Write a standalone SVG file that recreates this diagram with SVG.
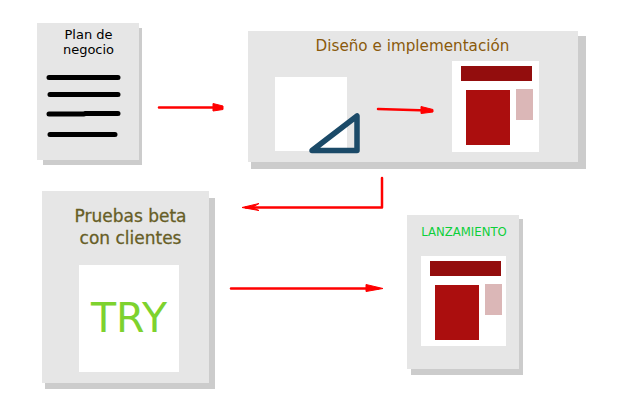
<svg xmlns="http://www.w3.org/2000/svg" width="640" height="400" viewBox="0 0 640 400">
<style>
.card{fill:#e6e6e6}.shadow{fill:#cccccc}.white{fill:#ffffff}
.t{font-family:"DejaVu Sans",sans-serif;text-anchor:middle}
.l{stroke:#000;stroke-width:5;stroke-linecap:round;fill:none}
.c{stroke:#ff0000;fill:none;stroke-width:2.500;stroke-linecap:round;stroke-linejoin:round}
.h{fill:#ff0000;stroke:#ff0000;stroke-width:1;stroke-linejoin:round}
.d{fill:#930d0d}.r{fill:#ab0e0e}.p{fill:#dbb7b7}
</style>
<rect width="640" height="400" fill="#fff"/>
<g id="plan">
<rect class="shadow" x="43" y="28" width="99" height="137"/>
<rect class="card" x="37" y="23" width="102" height="137"/>
<text class="t" x="88.500" y="39" font-size="13" fill="#000">Plan de</text>
<text class="t" x="88.500" y="54" font-size="13" fill="#000">negocio</text>
<path class="l" d="M49 77.500H118M50 94.500H118M49 114H84M85 113.500H118M50 134.500H115"/>
</g>
<g id="diseno">
<rect class="shadow" x="251" y="36" width="335" height="133"/>
<rect class="card" x="248" y="31" width="330" height="131"/>
<text class="t" x="412.500" y="51" font-size="15.200" fill="#8a5a0b">Diseño e implementación</text>
<rect class="white" x="275" y="77" width="72" height="74"/>
<path d="M312 150.500L357 116V150.500Z" fill="none" stroke="#1b4a68" stroke-width="5.500" stroke-linejoin="round"/>
<rect class="white" x="452" y="61" width="87" height="91"/>
<rect class="d" x="461" y="66" width="71" height="15"/>
<rect class="r" x="466" y="90" width="44" height="55"/>
<rect class="p" x="516" y="89" width="17" height="31"/>
</g>
<g id="pruebas">
<rect class="shadow" x="45" y="198" width="170" height="191"/>
<rect class="card" x="42" y="191" width="167" height="192"/>
<text class="t" x="130.500" y="222" font-size="17" fill="#665e26" stroke="#665e26" stroke-width="0.300">Pruebas beta</text>
<text class="t" x="130.500" y="244" font-size="17" fill="#665e26" stroke="#665e26" stroke-width="0.300">con clientes</text>
<rect class="white" x="79" y="265" width="100" height="107"/>
<text class="t" x="129" y="332" font-size="41" fill="#7dd22e">TRY</text>
</g>
<g id="lanzamiento">
<rect class="shadow" x="411" y="219" width="112" height="156"/>
<rect class="card" x="407" y="215" width="112" height="154"/>
<text class="t" x="464" y="236" font-size="11.700" fill="#0dcf3a">LANZAMIENTO</text>
<rect class="white" x="421" y="256" width="85" height="90"/>
<rect class="d" x="430" y="261" width="71" height="15"/>
<rect class="r" x="435" y="285" width="44" height="55"/>
<rect class="p" x="485" y="284" width="17" height="31"/>
</g>
<g id="connectors">
<path class="c" d="M159 107.500H218"/><path class="h" d="M213 103.500L223 106L223 109.500L213 111Z"/>
<path class="c" d="M378 109L428 110.500"/><path class="h" d="M421 106.500L433 109.500L433 112L421 113.500Z"/>
<path class="c" d="M382 178V207.500H246"/><path class="h" d="M242 207.500L259 203.500L252 207.500L259 210.500Z"/>
<path class="c" d="M231 288.500H378"/><path class="h" d="M366 284.500L383 288.500L366 291.500Z"/>
</g>
</svg>
